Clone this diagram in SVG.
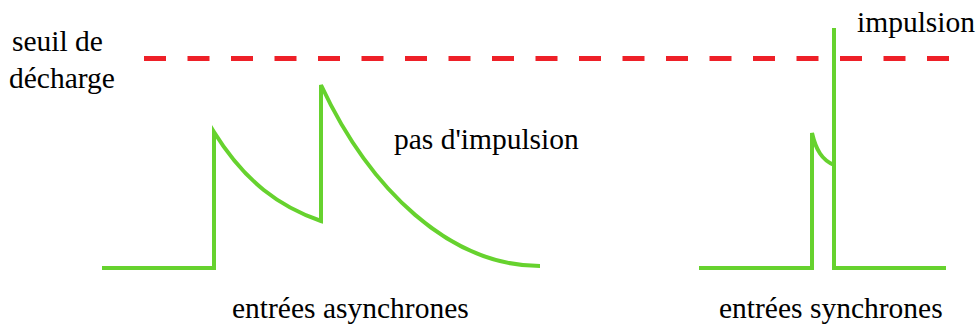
<svg xmlns="http://www.w3.org/2000/svg" width="980" height="327" viewBox="0 0 980 327">
<style>
.t{font-family:'Liberation Serif','Times New Roman',Times,serif;font-size:29.5px;fill:#000}
.w{fill:none;stroke:#66d22e;stroke-width:4;stroke-linejoin:miter}
.th{fill:none;stroke:#ee2028;stroke-width:5;stroke-dasharray:22 21.5}
</style>
<rect width="980" height="327" fill="#fff"/>
<g id="threshold">
<line class="th" x1="144" y1="58.5" x2="955" y2="58.5"/>
<text class="t" x="12" y="51">seuil de</text>
<text class="t" x="9" y="88">décharge</text>
</g>
<g id="async">
<path class="w" d="M102,268 H214 V132 C245,182 280,207 321,221 V85 C370,190 450,266 540,266"/>
<text class="t" x="394" y="149">pas d'impulsion</text>
<text class="t" x="232" y="318">entrées asynchrones</text>
</g>
<g id="sync">
<path class="w" d="M699,268 H812 V133 C816,150 822,160 834,165"/>
<path class="w" d="M834,28 V268 H946"/>
<text class="t" x="857" y="32">impulsion</text>
<text class="t" x="719" y="318">entrées synchrones</text>
</g>
</svg>
